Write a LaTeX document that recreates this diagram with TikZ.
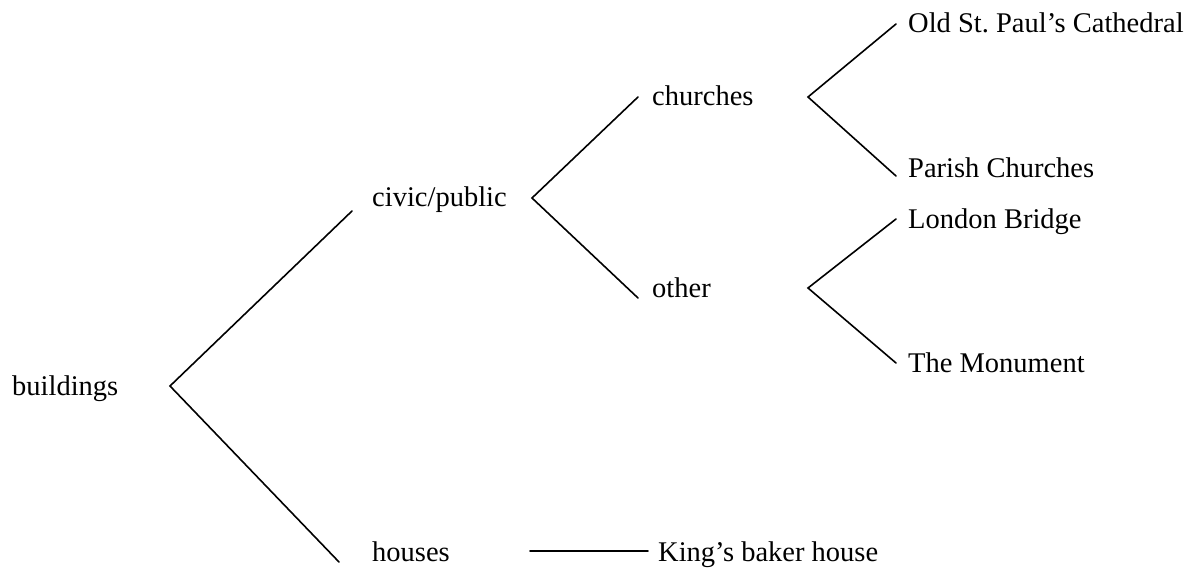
\documentclass[tikz,border=0pt]{standalone}
\usepackage{fontspec}
\setmainfont{Liberation Serif}
\begin{document}
\begin{tikzpicture}[x=1pt,y=-1pt,
  lbl/.style={anchor=base west,inner sep=0pt,font=\fontsize{28.5}{34}\selectfont},
  branch/.style={line width=1.6pt,line cap=round,line join=miter,black}]
\useasboundingbox (0,0) rectangle (1190,567);
% labels
\node[lbl] (buildings) at (12,395) {buildings};
\node[lbl] (civic) at (372,206) {civic/public};
\node[lbl] (houses) at (372,561) {houses};
\node[lbl] (churches) at (652,106) {churches};
\node[lbl] (other) at (652,297) {other};
\node[lbl] (paul) at (908,33) {Old St.\ Paul’s Cathedral};
\node[lbl] (parish) at (908,177) {Parish Churches};
\node[lbl] (bridge) at (908,228) {London Bridge};
\node[lbl] (monument) at (908,372) {The Monument};
\node[lbl] (king) at (658,561) {King’s baker house};
% branch points
\coordinate (b0) at (170,386);
\coordinate (b0u) at (352,211);
\coordinate (b0d) at (339,562);
\coordinate (c0) at (532,198);
\coordinate (c0u) at (638,97);
\coordinate (c0d) at (638,298);
\coordinate (h0) at (530,551);
\coordinate (h1) at (648,551);
\coordinate (ch0) at (808,97);
\coordinate (ch0u) at (896,24);
\coordinate (ch0d) at (896,176);
\coordinate (o0) at (808,288);
\coordinate (o0u) at (896,219);
\coordinate (o0d) at (896,363);
% connectors
\draw[branch] (b0u) -- (b0) -- (b0d);
\draw[branch] (c0u) -- (c0) -- (c0d);
\draw[branch] (ch0u) -- (ch0) -- (ch0d);
\draw[branch] (o0u) -- (o0) -- (o0d);
\draw[branch] (h0) -- (h1);
\end{tikzpicture}
\end{document}
